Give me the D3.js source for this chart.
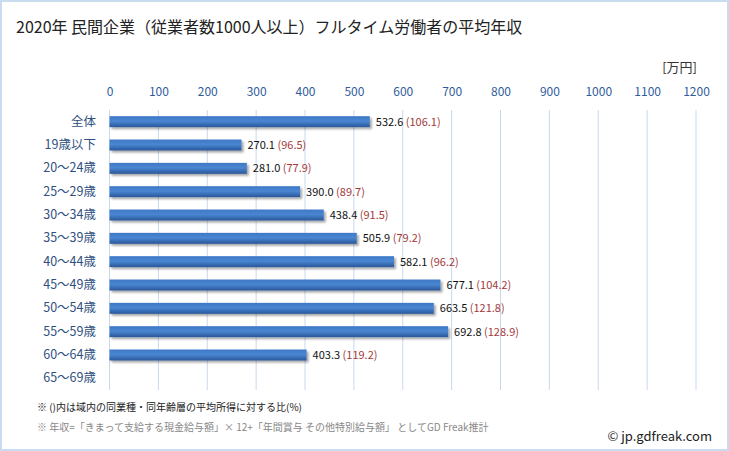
<!DOCTYPE html>
<html>
<head>
<meta charset="utf-8">
<script src="https://cdn.jsdelivr.net/npm/d3@7"></script>
<style>
  body { margin: 0; background: #fff; }
  svg { display: block; font-family: "Noto Sans CJK JP", "Noto Sans", sans-serif; }
</style>
</head>
<body>
<svg id="chart" width="729" height="451"></svg>
<script>
// data
var categories = ["全体", "19歳以下", "20〜24歳", "25〜29歳", "30〜34歳", "35〜39歳",
                  "40〜44歳", "45〜49歳", "50〜54歳", "55〜59歳", "60〜64歳", "65〜69歳"];
var incomes = [532.6, 270.1, 281.0, 390.0, 438.4, 505.9, 582.1, 677.1, 663.5, 692.8, 403.3, null];
var ratios = [106.1, 96.5, 77.9, 89.7, 91.5, 79.2, 96.2, 104.2, 121.8, 128.9, 119.2, null];
var xTicks = [0, 100, 200, 300, 400, 500, 600, 700, 800, 900, 1000, 1100, 1200];

var svg = d3.select("#chart");
var W = 729, H = 451;

// outer frame
svg.append("rect")
  .attr("x", 1).attr("y", 1)
  .attr("width", W - 2).attr("height", H - 2)
  .attr("fill", "#fff")
  .attr("stroke", "#c9dcf0")
  .attr("stroke-width", 2);

var defs = svg.append("defs");
var grad = defs.append("linearGradient")
  .attr("id", "barGrad")
  .attr("x1", 0).attr("y1", 0).attr("x2", 0).attr("y2", 1);
grad.append("stop").attr("offset", "0%").attr("stop-color", "#3d78c6");
grad.append("stop").attr("offset", "45%").attr("stop-color", "#4a86d2");
grad.append("stop").attr("offset", "100%").attr("stop-color", "#2a5799");

var shadow = defs.append("filter").attr("id", "shadow")
  .attr("x", "-5%").attr("y", "-30%").attr("width", "115%").attr("height", "180%");
shadow.append("feGaussianBlur").attr("in", "SourceAlpha").attr("stdDeviation", 1.2).attr("result", "b");
shadow.append("feOffset").attr("in", "b").attr("dx", 1.5).attr("dy", 2).attr("result", "o");
shadow.append("feComponentTransfer").attr("in", "o").attr("result", "s")
  .append("feFuncA").attr("type", "linear").attr("slope", 0.35);
var merge = shadow.append("feMerge");
merge.append("feMergeNode").attr("in", "s");
merge.append("feMergeNode").attr("in", "SourceGraphic");

// title
svg.append("text")
  .text("2020年 民間企業（従業者数1000人以上）フルタイム労働者の平均年収")
  .attr("x", 16).attr("y", 33)
  .style("font-size", "16px")
  .style("fill", "#222");

// scales
var x = d3.scaleLinear().domain([0, 1200]).range([109.5, 696]);
var y = d3.scaleBand().domain(categories).range([110, 390]).paddingInner(0.53).paddingOuter(0.265);

// unit
svg.append("text")
  .text("[万円]")
  .attr("x", 697).attr("y", 72)
  .style("text-anchor", "end")
  .style("font-size", "13px")
  .style("fill", "#333");

// grid
svg.append("g")
  .attr("class", "grid")
  .selectAll("line")
  .data(xTicks)
  .enter().append("line")
    .attr("x1", function(d) { return x(d); })
    .attr("x2", function(d) { return x(d); })
    .attr("y1", 110).attr("y2", 390)
    .attr("stroke", "#c9d9ec")
    .attr("stroke-width", 1);

// top axis labels
var xAxis = svg.append("g")
  .attr("transform", "translate(0,96)")
  .call(d3.axisTop(x).tickValues(xTicks).tickFormat(d3.format("d")).tickSize(0).tickPadding(0));
xAxis.select(".domain").remove();
xAxis.selectAll("text")
  .style("font-family", "'Noto Sans CJK JP', sans-serif")
  .style("font-size", "12px")
  .style("fill", "#2f5c9c");

// category labels
var yAxis = svg.append("g")
  .attr("transform", "translate(96,0)")
  .call(d3.axisLeft(y).tickSize(0).tickPadding(0));
yAxis.select(".domain").remove();
yAxis.selectAll("text")
  .style("font-family", "'Noto Sans CJK JP', sans-serif")
  .style("font-size", "12.5px")
  .style("fill", "#2f4f80");

var rows = categories.map(function(c, i) {
  return {cat: c, value: incomes[i], ratio: ratios[i]};
}).filter(function(d) { return d.value != null; });

// bars
svg.append("g")
  .selectAll("rect")
  .data(rows)
  .enter().append("rect")
    .attr("x", x(0))
    .attr("y", function(d) { return y(d.cat); })
    .attr("width", function(d) { return x(d.value) - x(0); })
    .attr("height", y.bandwidth())
    .attr("fill", "url(#barGrad)")
    .attr("filter", "url(#shadow)");

// value labels
var lab = svg.append("g")
  .selectAll("text")
  .data(rows)
  .enter().append("text")
    .attr("x", function(d) { return x(d.value) + 6; })
    .attr("y", function(d) { return y(d.cat) + y.bandwidth() / 2; })
    .attr("dy", "0.36em")
    .style("font-size", "11px");
lab.append("tspan")
  .text(function(d) { return d.value.toFixed(1); })
  .style("fill", "#111");
lab.append("tspan")
  .text(function(d) { return " (" + d.ratio.toFixed(1) + ")"; })
  .style("fill", "#a33a3a");

// notes
svg.append("text")
  .text("※ ()内は域内の同業種・同年齢層の平均所得に対する比(%)")
  .attr("x", 37).attr("y", 411)
  .style("font-size", "10px")
  .style("fill", "#222");
svg.append("text")
  .text("※ 年収=「きまって支給する現金給与額」× 12+「年間賞与 その他特別給与額」 としてGD Freak推計")
  .attr("x", 37).attr("y", 431)
  .style("font-size", "10px")
  .style("fill", "#888");
svg.append("text")
  .text("© jp.gdfreak.com")
  .attr("x", 712).attr("y", 441)
  .style("text-anchor", "end")
  .style("font-size", "13px")
  .style("fill", "#222");
</script>
</body>
</html>
